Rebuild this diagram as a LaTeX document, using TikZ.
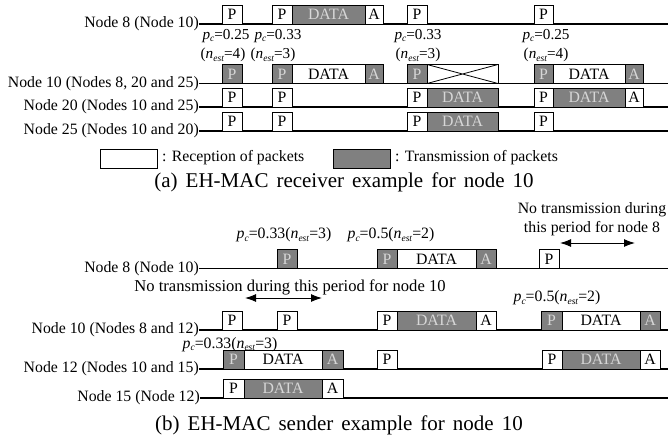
\documentclass[tikz,border=0pt]{standalone}
\usepackage{fontspec}
\setmainfont{Liberation Serif}
\usetikzlibrary{arrows.meta}
\definecolor{boxgray}{RGB}{128,128,128}
\definecolor{intxt}{RGB}{215,215,215}
\newcommand{\subx}[1]{\raisebox{-0.35ex}{\fontsize{9.5}{10}\selectfont\textit{#1}}}
\newcommand{\pcx}{\textit{p}\subx{c}}
\newcommand{\nestx}{\textit{n}\subx{est}}
\newcommand{\bx}[6]{\node[#2, minimum width=#5pt] (#1) at (#3,#4) {#6};}
\tikzset{
  pkt/.style={draw, line width=0.8pt, minimum height=19pt, inner sep=0pt, outer sep=0pt, anchor=south west},
  wb/.style={pkt, fill=white},
  gb/.style={pkt, fill=boxgray, text=intxt},
  lab/.style={anchor=east, inner sep=0pt},
  txt/.style={inner sep=0pt},
  smalltxt/.style={inner sep=0pt, font=\fontsize{15.2}{18}\selectfont},
  rowline/.style={line width=1.2pt},
  dbl/.style={line width=1pt, {Latex[length=11pt,width=8pt]}-{Latex[length=11pt,width=8pt]}},
  captxt/.style={inner sep=0pt, font=\fontsize{21}{24}\selectfont}
}
\begin{document}
\begin{tikzpicture}[x=1pt,y=-1pt,font=\fontsize{15.8}{19}\selectfont]
\useasboundingbox (0,0) rectangle (668,439);
% ---------- (a) ----------
\node[lab] (la1) at (199,24) {Node 8 (Node 10)};
\node[lab] (la2) at (199,83.5) {Node 10 (Nodes 8, 20 and 25)};
\node[lab] (la3) at (199,107) {Node 20 (Nodes 10 and 25)};
\node[lab] (la4) at (199,131) {Node 25 (Nodes 10 and 20)};
\coordinate (ea1) at (668,24);
\coordinate (ea2) at (668,83.5);
\coordinate (ea3) at (668,107);
\coordinate (ea4) at (668,131);
\draw[rowline] (la1.east) -- (ea1);
\draw[rowline] (la2.east) -- (ea2);
\draw[rowline] (la3.east) -- (ea3);
\draw[rowline] (la4.east) -- (ea4);
% row 1
\bx{a1p1}{wb}{222}{24}{20}{P}
\bx{a1p2}{wb}{272}{24}{20}{P}
\bx{a1d2}{gb}{292}{24}{73}{DATA}
\bx{a1a2}{wb}{365}{24}{18}{A}
\bx{a1p3}{wb}{407}{24}{20}{P}
\bx{a1p4}{wb}{534}{24}{19}{P}
% row 2
\bx{a2p1}{gb}{222}{83.5}{20}{P}
\bx{a2p2}{gb}{272}{83.5}{20}{P}
\bx{a2d2}{wb}{292}{83.5}{73}{DATA}
\bx{a2a2}{gb}{365}{83.5}{18}{A}
\bx{a2p3}{gb}{407}{83.5}{20}{P}
\bx{a2x}{wb}{427}{83.5}{71}{}
\draw[line width=0.8pt] (a2x.north west) -- (a2x.south east) (a2x.south west) -- (a2x.north east);
\bx{a2p4}{gb}{534}{83.5}{19}{P}
\bx{a2d4}{wb}{553}{83.5}{72}{DATA}
\bx{a2a4}{gb}{625}{83.5}{18}{A}
% row 3
\bx{a3p1}{wb}{222}{107}{20}{P}
\bx{a3p2}{wb}{272}{107}{20}{P}
\bx{a3p3}{wb}{407}{107}{20}{P}
\bx{a3d3}{gb}{427}{107}{71}{DATA}
\bx{a3p4}{wb}{534}{107}{19}{P}
\bx{a3d4}{gb}{553}{107}{72}{DATA}
\bx{a3a4}{wb}{625}{107}{18}{A}
% row 4
\bx{a4p1}{wb}{222}{131}{20}{P}
\bx{a4p2}{wb}{272}{131}{20}{P}
\bx{a4p3}{wb}{407}{131}{20}{P}
\bx{a4d3}{gb}{427}{131}{71}{DATA}
\bx{a4p4}{wb}{534}{131}{19}{P}
% probability labels
\node[smalltxt] (pc1) at (226,36) {\pcx=0.25};
\node[smalltxt] (ne1) at (223,55) {(\nestx=4)};
\node[smalltxt] (pc2) at (278,36) {\pcx=0.33};
\node[smalltxt] (ne2) at (273,55) {(\nestx=3)};
\node[smalltxt] (pc3) at (418,36) {\pcx=0.33};
\node[smalltxt] (ne3) at (418,55) {(\nestx=3)};
\node[smalltxt] (pc4) at (546,36) {\pcx=0.25};
\node[smalltxt] (ne4) at (546,55) {(\nestx=4)};
% legend
\bx{lgw}{wb}{100}{168}{57}{}
\node[txt, anchor=west] (lgwt) at (162,158) {: Reception of packets};
\bx{lgg}{gb}{333}{168}{57}{}
\node[txt, anchor=west] (lggt) at (395,158) {: Transmission of packets};
\node[captxt] (capa) at (344,182) {\spaceskip=8pt\relax (a) EH-MAC receiver example for node 10};
% ---------- (b) ----------
\node[lab] (lb1) at (199,268.5) {Node 8 (Node 10)};
\node[lab] (lb2) at (199,330) {Node 10 (Nodes 8 and 12)};
\node[lab] (lb3) at (199,369) {Node 12 (Nodes 10 and 15)};
\node[lab] (lb4) at (200,398) {Node 15 (Node 12)};
\coordinate (eb1) at (668,268.5);
\coordinate (eb2) at (668,330);
\coordinate (eb3) at (668,369);
\coordinate (eb4) at (668,398);
\draw[rowline] (lb1.east) -- (eb1);
\draw[rowline] (lb2.east) -- (eb2);
\draw[rowline] (lb3.east) -- (eb3);
\draw[rowline] (lb4.east) -- (eb4);
% node 8
\bx{b1p1}{gb}{277}{268.5}{20}{P}
\bx{b1p2}{gb}{377}{268.5}{20}{P}
\bx{b1d2}{wb}{397}{268.5}{79}{DATA}
\bx{b1a2}{gb}{476}{268.5}{20}{A}
\bx{b1p3}{wb}{539}{268.5}{20}{P}
\node[txt] (b1t1) at (284,235) {\pcx=0.33(\nestx=3)};
\node[txt] (b1t2) at (391,235) {\pcx=0.5(\nestx=2)};
\node[txt, align=center] (b1n) at (592,219.5) {No transmission during\\this period for node 8};
\coordinate (b1l) at (560,243);
\coordinate (b1r) at (635,243);
\draw[dbl] (b1l) -- (b1r);
% node 10
\bx{b2p1}{wb}{222}{330}{20}{P}
\bx{b2p2}{wb}{277}{330}{20}{P}
\bx{b2p3}{wb}{377}{330}{20}{P}
\bx{b2d3}{gb}{397}{330}{79}{DATA}
\bx{b2a3}{wb}{476}{330}{20}{A}
\bx{b2p4}{gb}{541}{330}{21}{P}
\bx{b2d4}{wb}{562}{330}{78}{DATA}
\bx{b2a4}{gb}{640}{330}{20}{A}
\node[txt, font=\fontsize{16.6}{19}\selectfont] (b2n) at (290,287) {No transmission during this period for node 10};
\coordinate (b2l) at (245,298);
\coordinate (b2r) at (322,298);
\draw[dbl] (b2l) -- (b2r);
\node[txt] (b2t) at (557,298) {\pcx=0.5(\nestx=2)};
% node 12
\bx{b3p1}{gb}{223}{369}{21}{P}
\bx{b3d1}{wb}{244}{369}{78}{DATA}
\bx{b3a1}{gb}{322}{369}{21}{A}
\bx{b3p2}{wb}{377}{369}{20}{P}
\bx{b3p3}{wb}{542}{369}{20}{P}
\bx{b3d3}{gb}{562}{369}{78}{DATA}
\bx{b3a3}{wb}{640}{369}{20}{A}
\node[txt] (b3t) at (230,344.5) {\pcx=0.33(\nestx=3)};
% node 15
\bx{b4p1}{wb}{223}{398}{21}{P}
\bx{b4d1}{gb}{244}{398}{78}{DATA}
\bx{b4a1}{wb}{322}{398}{21}{A}
\node[captxt] (capb) at (339,425) {\spaceskip=8pt\relax (b) EH-MAC sender example for node 10};
\end{tikzpicture}
\end{document}
